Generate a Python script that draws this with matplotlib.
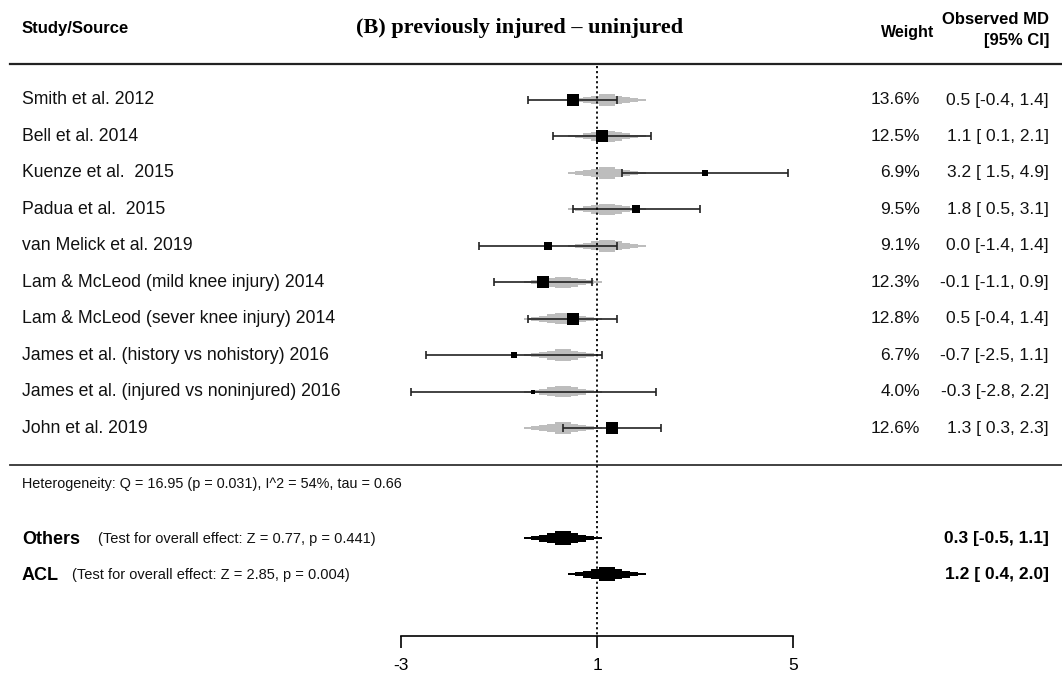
import matplotlib.pyplot as plt
from matplotlib.transforms import blended_transform_factory

# ---- data ----
studies = ['Smith et al. 2012', 'Bell et al. 2014', 'Kuenze et al.  2015',
           'Padua et al.  2015', 'van Melick et al. 2019',
           'Lam & McLeod (mild knee injury) 2014',
           'Lam & McLeod (sever knee injury) 2014',
           'James et al. (history vs nohistory) 2016',
           'James et al. (injured vs noninjured) 2016', 'John et al. 2019']
weights = [13.6, 12.5, 6.9, 9.5, 9.1, 12.3, 12.8, 6.7, 4.0, 12.6]
md = [0.5, 1.1, 3.2, 1.8, 0.0, -0.1, 0.5, -0.7, -0.3, 1.3]
ci_lo = [-0.4, 0.1, 1.5, 0.5, -1.4, -1.1, -0.4, -2.5, -2.8, 0.3]
ci_hi = [1.4, 2.1, 4.9, 3.1, 1.4, 0.9, 1.4, 1.1, 2.2, 2.3]
groups = ['ACL', 'ACL', 'ACL', 'ACL', 'ACL',
          'Others', 'Others', 'Others', 'Others', 'Others']

sub_names = ['Others', 'ACL']
sub_md = [0.3, 1.2]
sub_lo = [-0.5, 0.4]
sub_hi = [1.1, 2.0]
sub_tests = ['(Test for overall effect: Z = 0.77, p = 0.441)',
             '(Test for overall effect: Z = 2.85, p = 0.004)']
heterogeneity = 'Heterogeneity: Q = 16.95 (p = 0.031), I^2 = 54%, tau = 0.66'
xticks = [-3, 1, 5]

# ---- layout (pixels) ----
W, H = 1062, 686
px_per_unit = 49.0
x_left = -3 - 401 / px_per_unit
x_right = x_left + W / px_per_unit
row0, row_step = 100, 36.45
sub_rows = [538, 574]

sans = ['Liberation Sans', 'DejaVu Sans']

fig = plt.figure(figsize=(W / 100, H / 100), dpi=100)
ax = fig.add_axes([0, 0, 1, 1])
ax.set_xlim(x_left, x_right)
ax.set_ylim(H, 0)
ax.axis('off')
tr = blended_transform_factory(ax.transAxes, ax.transData)


def fx(px):
    return px / W


def stepped(y, est, lo, hi, hmax, color, z):
    # layered bars giving the bell-like summary shape
    half = (hi - lo) / 2
    for frac, hf in zip([1.0, 0.8, 0.6, 0.4, 0.2],
                        [0.16, 0.3, 0.5, 0.73, 0.95]):
        ax.barh(y, 2 * half * frac, left=est - half * frac, height=hmax * hf,
                color=color, lw=0, zorder=z)


# header
ax.text(fx(22), 29, 'Study/Source', transform=tr, ha='left', va='center',
        fontsize=12, fontweight='bold', family=sans)
ax.text(fx(520), 28, '(B) previously injured \u2013 uninjured', transform=tr,
        ha='center', va='center', fontsize=16, fontweight='bold',
        family=['Liberation Serif', 'DejaVu Serif'])
ax.text(fx(934), 33, 'Weight', transform=tr, ha='right', va='center',
        fontsize=11.5, fontweight='bold', family=sans)
ax.text(fx(1049), 19, 'Observed MD', transform=tr, ha='right', va='center',
        fontsize=12, fontweight='bold', family=sans)
ax.text(fx(1049), 41, '[95% CI]', transform=tr, ha='right', va='center',
        fontsize=12, fontweight='bold', family=sans)
ax.plot([fx(10), 1], [64, 64], transform=tr, color='#222222', lw=1.6)
ax.plot([fx(10), 1], [465, 465], transform=tr, color='#333333', lw=1.3)

# reference line
ax.plot([1, 1], [66, 636], color='black', lw=1.3, ls=(0, (1.2, 1.6)), zorder=4)

# studies
sub_lookup = dict(zip(sub_names, zip(sub_md, sub_lo, sub_hi)))
for i, name in enumerate(studies):
    y = row0 + i * row_step
    est, lo, hi = sub_lookup[groups[i]]
    stepped(y, est, lo, hi, 12, '#bdbdbd', 1)
    ax.errorbar(md[i], y, xerr=[[md[i] - ci_lo[i]], [ci_hi[i] - md[i]]],
                fmt='none', ecolor='#222222', elinewidth=1.2, capsize=3,
                capthick=1.2, zorder=2)
    side = 0.68 * weights[i]
    ax.scatter(md[i], y, marker='s', s=side ** 2, color='black', lw=0, zorder=3)
    ax.text(fx(22), y, name, transform=tr, ha='left', va='center',
            fontsize=12.7, family=sans, color='#111111')
    ax.text(fx(920), y, f'{weights[i]:.1f}%', transform=tr, ha='right',
            va='center', fontsize=12.5, family=sans, color='#111111')
    ax.text(fx(1049), y, f'{md[i]:.1f} [{ci_lo[i]:4.1f}, {ci_hi[i]:.1f}]',
            transform=tr, ha='right', va='center', fontsize=12.5, family=sans,
            color='#111111')

ax.text(fx(22), 484, heterogeneity, transform=tr, ha='left', va='center',
        fontsize=10.4, family=sans, color='#111111')

# subgroup summaries
test_x = [98, 72]
for j, name in enumerate(sub_names):
    y = sub_rows[j]
    stepped(y, sub_md[j], sub_lo[j], sub_hi[j], 14, 'black', 3)
    ax.text(fx(22), y + 1, name, transform=tr, ha='left', va='center',
            fontsize=13, fontweight='bold', family=sans)
    ax.text(fx(test_x[j]), y + 1, sub_tests[j], transform=tr, ha='left',
            va='center', fontsize=10.5, family=sans, color='#111111')
    ax.text(fx(1049), y, f'{sub_md[j]:.1f} [{sub_lo[j]:4.1f}, {sub_hi[j]:.1f}]',
            transform=tr, ha='right', va='center', fontsize=12.5,
            fontweight='bold', family=sans)

# bottom axis
axb = fig.add_axes([0, 1 - 636 / H, 1, 0.001])
axb.set_xlim(x_left, x_right)
axb.set_yticks([])
for s in ['top', 'left', 'right']:
    axb.spines[s].set_visible(False)
axb.spines['bottom'].set_bounds(min(xticks), max(xticks))
axb.spines['bottom'].set_linewidth(1.2)
axb.set_xticks(xticks)
axb.set_xticklabels([str(t) for t in xticks], fontsize=12.5, family=sans)
axb.tick_params(axis='x', length=8.6, width=1.2, pad=7, direction='out')
axb.patch.set_visible(False)

fig.savefig('out.png', dpi=100, facecolor='white')
